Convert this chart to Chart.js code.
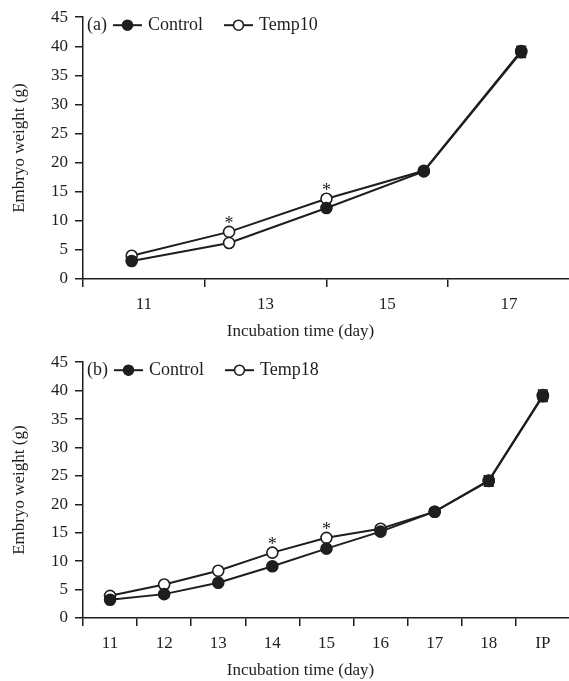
<!DOCTYPE html>
<html>
<head>
<meta charset="utf-8">
<script src="https://cdn.jsdelivr.net/npm/chart.js@4.4.1/dist/chart.umd.min.js"></script>
<style>
	html, body { margin: 0; padding: 0; background: #fff; overflow: hidden; }
	canvas { display: block; }
	/* canvases run 8px past the window so the plot reaches the right edge */
	#wrapA { position: absolute; left: 0; top: 0; width: 577px; height: 345px; }
	#wrapB { position: absolute; left: 0; top: 345px; width: 577px; height: 336px; }
</style>
</head>
<body>
<div id="wrapA"><canvas id="chartA"></canvas></div>
<div id="wrapB"><canvas id="chartB"></canvas></div>
<script>
// panel (a)
var daysA = ['11', '13', '15', '17'];
var controlA = [3.1, 6.2, 12.2, 18.5, 39.0];
var temp10 = [4.0, 8.1, 13.8, 18.6, 39.2];
var errControlA = [0.2, 0.3, 0.4, 0.5, 0.9];
var errTemp10 = [0.2, 0.3, 0.4, 0.4, 0.8];
var starsA = [1, 2];

// panel (b)
var daysB = ['11', '12', '13', '14', '15', '16', '17', '18', 'IP'];
var controlB = [3.2, 4.2, 6.2, 9.1, 12.2, 15.2, 18.7, 24.1, 39.0];
var temp18 = [3.9, 5.9, 8.3, 11.5, 14.1, 15.7, 18.7, 24.2, 39.2];
var errControlB = [0.2, 0.3, 0.3, 0.4, 0.4, 0.5, 0.5, 0.9, 0.9];
var errTemp18 = [0.2, 0.3, 0.3, 0.4, 0.4, 0.4, 0.5, 0.8, 0.9];
var starsB = [3, 4];

var yTicks = [0, 45, 5];
var xTitle = 'Incubation time (day)';

var ink = '#1e1e1e';
var fam = '"Liberation Serif", "Times New Roman", serif';

// error bars (under the markers), asterisks, x title and the small legend inside the plot
var extrasPlugin = {
	id: 'extras',
	beforeDatasetsDraw: function (chart) {
		var ctx = chart.ctx;
		var yScale = chart.scales.y;
		ctx.save();
		ctx.strokeStyle = ink;
		ctx.lineWidth = 1.6;
		chart.data.datasets.forEach(function (ds, di) {
			var meta = chart.getDatasetMeta(di);
			meta.data.forEach(function (pt, i) {
				var v = ds.data[i];
				v = typeof v === 'object' ? v.y : v;
				var e = ds.errors[i];
				var top = yScale.getPixelForValue(v + e);
				var bot = yScale.getPixelForValue(v - e);
				ctx.beginPath();
				ctx.moveTo(pt.x, top); ctx.lineTo(pt.x, bot);
				ctx.moveTo(pt.x - 5, top); ctx.lineTo(pt.x + 5, top);
				ctx.moveTo(pt.x - 5, bot); ctx.lineTo(pt.x + 5, bot);
				ctx.stroke();
			});
		});
		ctx.restore();
	},
	afterDatasetsDraw: function (chart) {
		var ctx = chart.ctx;
		var opts = chart.options.plugins.extras;
		var tMeta = chart.getDatasetMeta(1);
		ctx.save();
		ctx.fillStyle = ink;
		ctx.font = '18px ' + fam;
		ctx.textAlign = 'center';
		ctx.textBaseline = 'alphabetic';
		opts.stars.forEach(function (i) {
			var pt = tMeta.data[i];
			ctx.fillText('*', pt.x, pt.y - 3);
		});
		ctx.restore();
	},
	afterDraw: function (chart) {
		var opts = chart.options.plugins.extras;
		var ctx = chart.ctx;
		var area = chart.chartArea;
		ctx.save();
		// x axis title, sits a little left of the plot centre
		ctx.font = '17px ' + fam;
		ctx.fillStyle = ink;
		ctx.textAlign = 'center';
		ctx.textBaseline = 'middle';
		ctx.fillText(xTitle, (area.left + area.right) / 2 - 26, area.bottom + 53);

		var y = area.top + 8;
		var x = area.left + 4;
		ctx.font = '18px ' + fam;
		ctx.strokeStyle = ink;
		ctx.textAlign = 'left';
		ctx.fillText(opts.tag, x, y);
		x += ctx.measureText(opts.tag).width + 6;
		chart.data.datasets.forEach(function (ds, di) {
			ctx.lineWidth = 2;
			ctx.beginPath();
			ctx.moveTo(x, y); ctx.lineTo(x + 29, y);
			ctx.stroke();
			ctx.beginPath();
			ctx.arc(x + 14.5, y, 5, 0, Math.PI * 2);
			ctx.fillStyle = di === 0 ? ink : '#fff';
			ctx.fill();
			ctx.lineWidth = 1.6;
			ctx.stroke();
			x += 35;
			ctx.fillStyle = ink;
			ctx.fillText(ds.label, x, y);
			x += ctx.measureText(ds.label).width + 21;
		});
		ctx.restore();
	}
};

function series(label, values, errors, fill, xAxisID) {
	return {
		label: label,
		data: values,
		errors: errors,
		xAxisID: xAxisID,
		borderColor: ink,
		borderWidth: 2,
		pointRadius: 5.5,
		pointBorderWidth: 1.6,
		pointBorderColor: ink,
		pointBackgroundColor: fill,
		order: label === 'Control' ? 0 : 1,
		tension: 0
	};
}

function yAxis() {
	return {
		min: yTicks[0],
		max: yTicks[1],
		ticks: { stepSize: yTicks[2], color: ink, font: { family: fam, size: 17 }, padding: 7 },
		grid: { drawOnChartArea: false, drawTicks: true, tickLength: 8, color: ink, lineWidth: 1.5 },
		border: { display: true, color: ink, width: 1.5 },
		title: { display: true, text: 'Embryo weight (g)', color: ink, font: { family: fam, size: 17 }, padding: { top: 9 } },
		afterFit: function (s) { s.width = 83; }
	};
}

function xAxis(height) {
	return {
		type: 'category',
		offset: true,
		grid: { offset: true, drawOnChartArea: false, drawTicks: true, tickLength: 8, color: ink, lineWidth: 1.5 },
		border: { display: true, color: ink, width: 1.5 },
		ticks: { color: ink, font: { family: fam, size: 17 }, padding: 7, maxRotation: 0, autoSkip: false },
		afterFit: function (s) { s.height = height; }
	};
}

function baseOptions(tag, stars, topPad) {
	return {
		responsive: true,
		maintainAspectRatio: false,
		animation: false,
		layout: { padding: { top: topPad, left: 0, right: 0, bottom: 0 } },
		plugins: {
			legend: { display: false },
			tooltip: { enabled: false },
			extras: { tag: tag, stars: stars }
		},
		scales: {}
	};
}

// chart (a): five sampling points drawn over a four-label day axis
var optsA = baseOptions('(a)', starsA, 15);
optsA.scales.x = xAxis(66);
optsA.scales.xd = { type: 'linear', display: false, min: 0, max: controlA.length, position: 'bottom' };
optsA.scales.y = yAxis();

var fillA = controlA.map(function (v, i) { return i === 1 ? '#fff' : ink; });

new Chart(document.getElementById('chartA'), {
	type: 'line',
	data: {
		labels: daysA,
		datasets: [
			series('Control', controlA.map(function (v, i) { return { x: i + 0.5, y: v }; }), errControlA, fillA, 'xd'),
			series('Temp10', temp10.map(function (v, i) { return { x: i + 0.5, y: v }; }), errTemp10, '#fff', 'xd')
		]
	},
	options: optsA,
	plugins: [extrasPlugin]
});

// chart (b)
var optsB = baseOptions('(b)', starsB, 10);
optsB.scales.x = xAxis(63);
optsB.scales.y = yAxis();

new Chart(document.getElementById('chartB'), {
	type: 'line',
	data: {
		labels: daysB,
		datasets: [
			series('Control', controlB, errControlB, ink, 'x'),
			series('Temp18', temp18, errTemp18, '#fff', 'x')
		]
	},
	options: optsB,
	plugins: [extrasPlugin]
});
</script>
</body>
</html>
